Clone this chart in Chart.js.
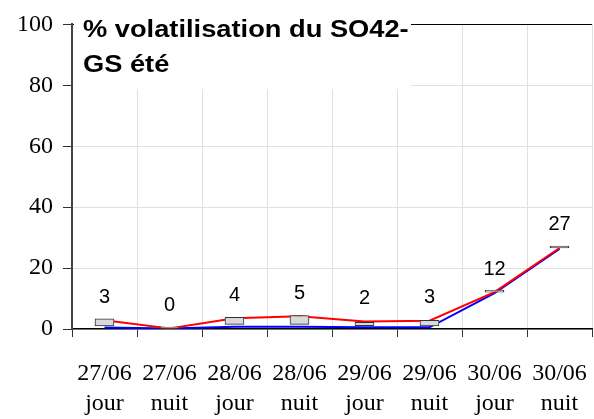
<!DOCTYPE html>
<html>
<head>
<meta charset="utf-8">
<script src="https://cdn.jsdelivr.net/npm/chart.js@4"></script>
<style>
  body { margin: 0; background: #fff; }
  #wrap { width: 594px; height: 419px; }
</style>
</head>
<body>
<div id="wrap"><canvas id="chart"></canvas></div>
<script>
// Données
const dates = ['27/06', '27/06', '28/06', '28/06', '29/06', '29/06', '30/06', '30/06'];
const periodes = ['jour', 'nuit', 'jour', 'nuit', 'jour', 'nuit', 'jour', 'nuit'];
const serieMax = [2.9, 0.2, 3.5, 4.2, 2.5, 2.7, 12.1, 26.6];   // ligne rouge
const serieMin = [0.5, 0.2, 0.7, 0.7, 0.55, 0.55, 11.8, 26.3]; // ligne bleue
const boiteBas = [1.0, 0, 1.5, 1.5, 1.1, 1.0, 12.1, 26.6];
const boiteHaut = [3.3, 0, 3.8, 4.4, 2.2, 2.85, 12.1, 26.6];
const etiquettes = [3, 0, 4, 5, 2, 3, 12, 27];
const yTicks = [0, 20, 40, 60, 80, 100];
const titre = ['% volatilisation du SO42-', 'GS été'];

const labels = dates.map((d, i) => [d, periodes[i]]);

// Titre dans un cadre blanc en haut à gauche de la zone de tracé
const titrePlugin = {
  id: 'titre',
  beforeDatasetsDraw(chart) {
    const ctx = chart.ctx;
    const area = chart.chartArea;
    ctx.save();
    ctx.fillStyle = '#fff';
    ctx.fillRect(area.left + 2, 0, 411 - area.left - 2, 89);
    ctx.fillStyle = '#000';
    ctx.font = 'bold 23.5px "Liberation Sans", Arial, sans-serif';
    ctx.textBaseline = 'alphabetic';
    ctx.translate(83, 0);
    ctx.scale(1.16, 1);
    ctx.fillText(titre[0], 0, 37);
    ctx.fillText(titre[1], 0, 72);
    ctx.restore();
  }
};

// Valeurs au-dessus des points
const etiquettesPlugin = {
  id: 'etiquettes',
  afterDatasetsDraw(chart) {
    const ctx = chart.ctx;
    const x = chart.scales.x;
    const y = chart.scales.y;
    ctx.save();
    ctx.fillStyle = '#000';
    ctx.font = '20px "Liberation Sans", Arial, sans-serif';
    ctx.textAlign = 'center';
    ctx.textBaseline = 'middle';
    etiquettes.forEach((v, i) => {
      ctx.fillText(String(v), x.getPixelForValue(i), y.getPixelForValue(serieMax[i]) - 23);
    });
    ctx.restore();
  }
};

new Chart(document.getElementById('chart'), {
  type: 'line',
  data: {
    labels: labels,
    datasets: [
      {
        type: 'bar',
        data: boiteBas.map((b, i) => [b, boiteHaut[i]]),
        backgroundColor: '#d9d9d9',
        borderColor: '#333',
        borderWidth: 1,
        borderSkipped: false,
        barThickness: 19,
        minBarLength: 2,
        order: 0
      },
      {
        data: serieMax,
        borderColor: '#ff0000',
        borderWidth: 2,
        pointRadius: 0,
        tension: 0,
        order: 1
      },
      {
        data: serieMin,
        borderColor: '#0000ff',
        borderWidth: 2,
        pointRadius: 0,
        tension: 0,
        order: 2
      }
    ]
  },
  options: {
    responsive: true,
    maintainAspectRatio: false,
    animation: false,
    layout: { padding: { top: 23, right: 2, left: 0, bottom: 0 } },
    plugins: {
      legend: { display: false },
      tooltip: { enabled: false }
    },
    scales: {
      x: {
        offset: true,
        grid: {
          offset: true,
          color: (c) => c.index === labels.length ? '#808080' : '#e0e0e0',
          tickColor: '#333',
          tickLength: 8
        },
        border: { color: '#000', width: 1.5 },
        ticks: {
          color: '#000',
          padding: 21.5,
          maxRotation: 0,
          autoSkip: false,
          font: { family: '"Liberation Serif", "Times New Roman", serif', size: 24, lineHeight: 1.25 }
        },
        afterFit: (s) => {
          s.height = 90;
          s.paddingLeft = 0;
          s.paddingRight = 0;
        }
      },
      y: {
        min: 0,
        max: 100,
        afterBuildTicks: (s) => { s.ticks = yTicks.map(v => ({ value: v })); },
        grid: {
          color: (c) => c.tick && c.tick.value === 100 ? '#000' : '#e0e0e0',
          tickColor: '#333',
          tickLength: 9
        },
        border: { color: '#444', width: 2 },
        ticks: {
          color: '#000',
          padding: 10,
          font: { family: '"Liberation Serif", "Times New Roman", serif', size: 24 }
        },
        afterFit: (s) => { s.width = 72; }
      }
    }
  },
  plugins: [titrePlugin, etiquettesPlugin]
});
</script>
</body>
</html>
